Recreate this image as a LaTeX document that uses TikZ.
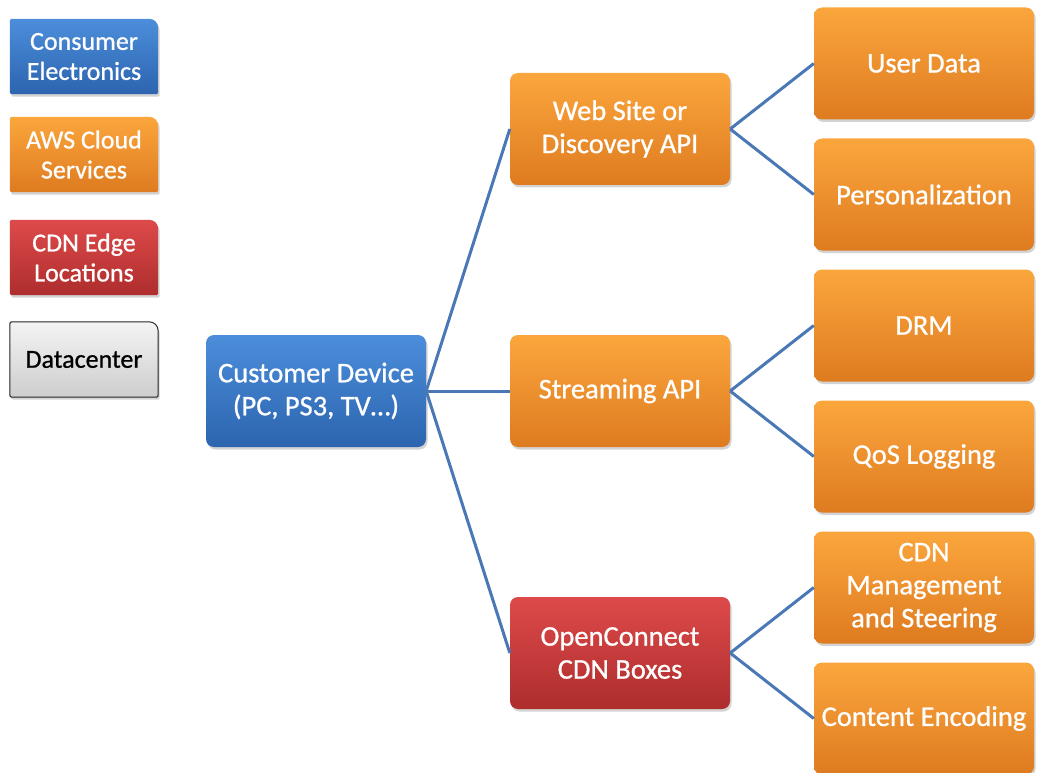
\documentclass[tikz,border=0pt]{standalone}
\usepackage{fontspec}
\setmainfont[FakeBold=0.8]{Carlito}
\usetikzlibrary{shadows,backgrounds}
\definecolor{blueT}{HTML}{4C8EDB}
\definecolor{blueB}{HTML}{2C64AF}
\definecolor{orangeT}{HTML}{FBA63D}
\definecolor{orangeB}{HTML}{DE7B20}
\definecolor{redT}{HTML}{DE4A4A}
\definecolor{redB}{HTML}{AE2D2D}
\definecolor{grayT}{HTML}{F4F4F4}
\definecolor{grayB}{HTML}{CDCDCD}
\definecolor{linkblue}{HTML}{4A78B6}
\begin{document}
\begin{tikzpicture}[x=1pt,y=-1pt,
    box/.style={rounded corners=8pt, minimum width=220pt, minimum height=112pt, inner sep=2pt,
      align=center, text=white, font=\fontsize{28.5}{33}\selectfont,
      drop shadow={shadow xshift=1.5pt, shadow yshift=-2.5pt, opacity=.35}},
    devbox/.style={top color=blueT, bottom color=blueB},
    awsbox/.style={top color=orangeT, bottom color=orangeB},
    cdnbox/.style={top color=redT, bottom color=redB},
    key/.style={minimum width=148pt, minimum height=75pt, inner sep=1pt, align=center,
      text=white, font=\fontsize{26}{30}\selectfont},
    link/.style={draw=linkblue, line width=3pt}]
  \useasboundingbox (0,0) rectangle (1037,773);

  % legend
  \node[key] (lce) at (84,56.5) {Consumer\\Electronics};
  \node[key] (laws) at (84,154.5) {AWS Cloud\\Services};
  \node[key] (lcdn) at (84,257.5) {CDN Edge\\Locations};
  \node[key, text=black] (ldc) at (84,359.5) {Datacenter};
  \begin{scope}[on background layer]
    \foreach \n/\t/\b/\d in {lce/blueT/blueB/none, laws/orangeT/orangeB/none,
        lcdn/redT/redB/none, ldc/grayT/grayB/black!85}
      \path[top color=\t, bottom color=\b, draw=\d, line width=1pt,
          drop shadow={shadow xshift=1.5pt, shadow yshift=-2.5pt, opacity=.35}]
        (\n.south west) [rounded corners=1.5pt] -- (\n.north west)
        [rounded corners=9pt] -- (\n.north east)
        [rounded corners=1.5pt] -- (\n.south east) -- cycle;
  \end{scope}

  % tree
  \node[box, devbox] (dev) at (316,391) {Customer Device\\(PC, PS3, TV\ldots)}
    [grow'=right, level distance=304pt,
     level 1/.style={sibling distance=262pt},
     level 2/.style={sibling distance=131pt},
     edge from parent/.style={link},
     edge from parent path={(\tikzparentnode.east) -- (\tikzchildnode.west)}]
    child{node[box, awsbox] (web) {Web Site or\\Discovery API}
      child{node[box, awsbox] (user) {User Data}}
      child{node[box, awsbox] (pers) {Personalization}}
      }
    child{node[box, awsbox] (stream) {Streaming API}
      child{node[box, awsbox] (drm) {DRM}}
      child{node[box, awsbox] (qos) {QoS Logging}}
      }
    child{node[box, cdnbox] (cdn) {OpenConnect\\CDN Boxes}
      child{node[box, awsbox] (steer) {CDN\\Management\\and Steering}}
      child{node[box, awsbox] (enc) {Content Encoding}}
      };
\end{tikzpicture}
\end{document}
